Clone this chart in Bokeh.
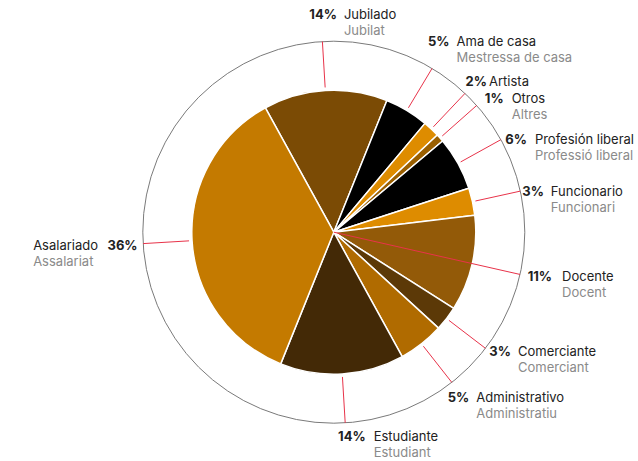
import math
from bokeh.plotting import figure
from bokeh.models import Range1d, ColumnDataSource
from bokeh.core.properties import value
from bokeh.embed import file_html
from bokeh.resources import INLINE

# ---- data ----
names_es = ["Jubilado", "Ama de casa", "Artista", "Otros", "Profesión liberal",
            "Funcionario", "Docente", "Comerciante", "Administrativo", "Estudiante", "Asalariado"]
names_ca = ["Jubilat", "Mestressa de casa", "", "Altres", "Professió liberal",
            "Funcionari", "Docent", "Comerciant", "Administratiu", "Estudiant", "Assalariat"]
shares = [14.1, 5.0, 1.9, 0.9, 6.1, 3.1, 10.9, 2.8, 5.2, 14.1, 35.9]
colors = ["#7b4b05", "#000000", "#de8c00", "#9a5f00", "#000000",
          "#de8c00", "#935a08", "#5c3907", "#b06b00", "#432906", "#c47a00"]

# ---- layout ----
W, H = 638, 461
CX, CY = 333.3, 231.7           # page coords of pie centre
R_PIE, R_OUT, R_LEAD = 142, 191, 145
START = -28.8                    # degrees clockwise from 12 o'clock
label_dx = [18, 21, 23, 31, 30, 27, 37, 29, 21, 24.5, -5.6]
label_dy = [-28, -27, -12, -7, -1, 0, 2, 3, 15, 13, 1]
label_gap = [7, 7, 2, 8, 8, 7, 10, 7, 7, 8, 0]
lead_from_center = [False] * 6 + [True] + [False] * 4
LINE_STEP = 16
FONT = "Inter"
FS = "13px"

def dy_(py):
    return H - py

def pt(theta_deg, r):
    t = math.radians(theta_deg)
    return CX + r * math.sin(t), CY - r * math.cos(t)

p = figure(width=W, height=H, x_range=Range1d(0, W), y_range=Range1d(0, H),
           output_backend="svg", toolbar_location=None, min_border=0)
p.axis.visible = False
p.grid.visible = False
p.outline_line_color = None
p.background_fill_color = "white"

total = sum(shares)
starts, ends, mids = [], [], []
a = START
for v in shares:
    b = a + 360 * v / total
    starts.append(a); ends.append(b); mids.append((a + b) / 2)
    a = b

# outer circle
p.circle(x=[CX], y=[dy_(CY)], radius=R_OUT, fill_color=None, line_color="#7a7a7a", line_width=1)

# wedges (convert clockwise-from-top to math angles)
src = ColumnDataSource(dict(
    s=[math.radians(90 - e) for e in ends],
    e=[math.radians(90 - s) for s in starts],
    c=colors))
p.wedge(x=CX, y=dy_(CY), radius=R_PIE, start_angle="s", end_angle="e", direction="anticlock",
        fill_color="c", line_color="white", line_width=1.5, source=src)

# leader lines
xs, ys = [], []
for i, m in enumerate(mids):
    r0 = 0 if lead_from_center[i] else R_LEAD
    x0, y0 = pt(m, r0)
    x1, y1 = pt(m, R_OUT)
    xs.append([x0, x1]); ys.append([dy_(y0), dy_(y1)])
p.multi_line(xs=xs, ys=ys, line_color="#e8334a", line_width=1)

# labels
pct_x, pct_y, pct_t = [], [], []
n1_x, n1_y, n1_t = [], [], []
n2_x, n2_y, n2_t = [], [], []
for i, m in enumerate(mids):
    ex, ey = pt(m, R_OUT)
    y = ey + label_dy[i]
    pct = f"{round(shares[i])}%"
    if math.sin(math.radians(m)) >= -0.5:
        X = ex + label_dx[i]
        px, nx = X - label_gap[i] / 2, X + label_gap[i] / 2
    else:
        px = ex + label_dx[i]
        nx = ex - 110
    pct_x.append(px); pct_y.append(dy_(y)); pct_t.append(pct)
    n1_x.append(nx); n1_y.append(dy_(y)); n1_t.append(names_es[i])
    if names_ca[i]:
        n2_x.append(nx); n2_y.append(dy_(y + LINE_STEP)); n2_t.append(names_ca[i])

p.text(x=pct_x, y=pct_y, text=pct_t, text_align="right", text_baseline="middle",
       text_font=value(FONT), text_font_size=FS, text_font_style="bold", text_color="#222222")
p.text(x=n1_x, y=n1_y, text=n1_t, text_align="left", text_baseline="middle",
       text_font=value(FONT), text_font_size=FS, text_color="#222222")
p.text(x=n2_x, y=n2_y, text=n2_t, text_align="left", text_baseline="middle",
       text_font=value(FONT), text_font_size=FS, text_color="#8a8a8a")

open("out.html", "w").write(file_html(p, INLINE))
